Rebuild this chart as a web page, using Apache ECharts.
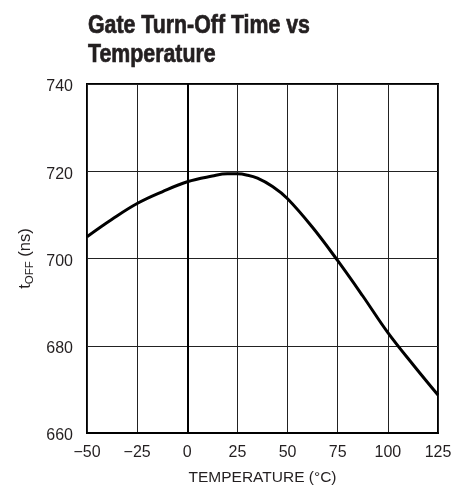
<!DOCTYPE html>
<html>
<head>
<meta charset="utf-8">
<script src="https://cdn.jsdelivr.net/npm/echarts@6/dist/echarts.min.js"></script>
<style>
html,body{margin:0;padding:0;background:#fff;}
#chart{width:468px;height:491px;}
</style>
</head>
<body>
<div id="chart"></div>
<script>
var temperatures = [-50, -37.5, -25, -12.5, 0, 12.5, 20, 25, 30, 35, 42.5, 50, 62.5, 75, 87.5, 100, 112.5, 125];
var tOff = [705.0, 709.0, 712.6, 715.3, 717.6, 718.9, 719.4, 719.4, 719.1, 718.4, 716.5, 713.7, 707.1, 699.5, 691.4, 683.0, 675.7, 668.7];
var xTicks = [-50, -25, 0, 25, 50, 75, 100, 125];
var yTicks = [660, 680, 700, 720, 740];
var titleText = 'Gate Turn-Off Time vs\nTemperature';

var FONT = "'Liberation Sans', Arial, Helvetica, sans-serif";
var chart = echarts.init(document.getElementById('chart'), null, {renderer: 'canvas'});
var points = temperatures.map(function (t, i) { return [t, tOff[i]]; });

chart.setOption({
  animation: false,
  backgroundColor: '#fff',
  graphic: [{
    type: 'text',
    x: 88,
    y: 11,
    scaleX: 0.82,
    scaleY: 1,
    style: {
      text: titleText,
      font: "bold 26px 'Liberation Sans', Arial, sans-serif",
      lineHeight: 29,
      fill: '#231f20',
      stroke: '#231f20',
      lineWidth: 0.7
    }
  }],
  grid: {left: 87, right: 30, top: 84, bottom: 56, show: true, borderColor: '#000', borderWidth: 2, backgroundColor: 'transparent'},
  xAxis: {
    type: 'value',
    min: xTicks[0], max: xTicks[xTicks.length - 1], interval: 25,
    name: 'TEMPERATURE (°C)',
    nameLocation: 'middle',
    nameGap: 37,
    nameTextStyle: {fontFamily: FONT, fontSize: 15.5, color: '#231f20'},
    axisLine: {show: true, lineStyle: {color: '#000', width: 2}},
    axisTick: {show: false},
    splitLine: {show: true, lineStyle: {color: '#222', width: 1}},
    axisLabel: {
      margin: 12,
      fontFamily: FONT, fontSize: 16, color: '#231f20',
      formatter: function (v) { return String(v).replace('-', '\u2212'); }
    }
  },
  yAxis: {
    type: 'value',
    min: yTicks[0], max: yTicks[yTicks.length - 1], interval: 20,
    name: '{a|t}{b|OFF}{a| (ns)}',
    nameLocation: 'middle',
    nameGap: 49,
    nameRotate: 90,
    nameTextStyle: {
      fontFamily: FONT, color: '#231f20',
      rich: {
        a: {fontFamily: FONT, fontSize: 16.5, color: '#231f20'},
        b: {fontFamily: FONT, fontSize: 11.5, color: '#231f20', padding: [8, 0, 0, 0]}
      }
    },
    axisLine: {show: true, lineStyle: {color: '#000', width: 2}},
    axisTick: {show: false},
    splitLine: {show: true, lineStyle: {color: '#222', width: 1}},
    axisLabel: {margin: 14, fontFamily: FONT, fontSize: 16, color: '#231f20', verticalAlign: 'top', padding: [-5, 0, 0, 0]}
  },
  series: [{
    type: 'line',
    data: points,
    smooth: 0.4,
    showSymbol: false,
    lineStyle: {color: '#000', width: 3},
    clip: true
  }]
});
</script>
</body>
</html>
